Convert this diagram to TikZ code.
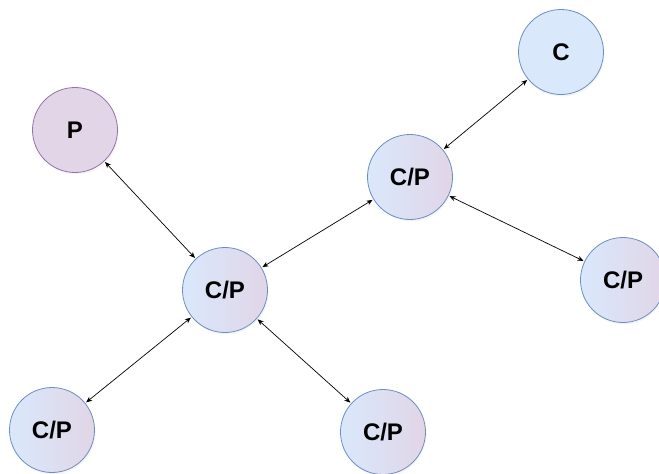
\documentclass[tikz,border=0pt]{standalone}
\usepackage{fontspec}
\setmainfont{Liberation Sans}
\usetikzlibrary{arrows.meta,shadows}
\begin{document}
\begin{tikzpicture}[x=1pt,y=-1pt]
  % Colors
  \definecolor{cfill}{HTML}{DAE8FC}
  \definecolor{cline}{HTML}{6C8EBF}
  \definecolor{pfill}{HTML}{E1D5E7}
  \definecolor{pline}{HTML}{9673A6}

  % Styles
  \tikzstyle{peer}=[circle,minimum size=85pt,inner sep=0pt,line width=0.8pt,
    draw=cline,font=\fontsize{24}{24}\selectfont\bfseries,
    drop shadow={opacity=0.08,shadow xshift=1pt,shadow yshift=-2pt}]
  \tikzstyle{consumer}=[peer,fill=cfill]
  \tikzstyle{producer}=[peer,fill=pfill,draw=pline]
  \tikzstyle{both}=[peer,left color=cfill,right color=pfill]
  \tikzstyle{link}=[{Stealth[length=6pt,width=5pt]}-{Stealth[length=6pt,width=5pt]},
    line width=0.7pt,shorten <=1pt,shorten >=1pt]

  \useasboundingbox (0,0) rectangle (659,474);

  % The graphic
  \node[consumer] (c) at (561,52) {C};
  \node[producer] (p) at (75,130) {P};
  \node[both] (cptop) at (410,177) {C/P};
  \node[both] (cpright) at (623,280) {C/P};
  \node[both] (cpmid) at (225,290) {C/P};
  \node[both] (cpleft) at (52,430) {C/P};
  \node[both] (cpbottom) at (383,432) {C/P};

  \draw[link] (p) -- (cpmid);
  \draw[link] (cpmid) -- (cptop);
  \draw[link] (cptop) -- (c);
  \draw[link] (cptop) -- (cpright);
  \draw[link] (cpmid) -- (cpleft);
  \draw[link] (cpmid) -- (cpbottom);
\end{tikzpicture}
\end{document}
